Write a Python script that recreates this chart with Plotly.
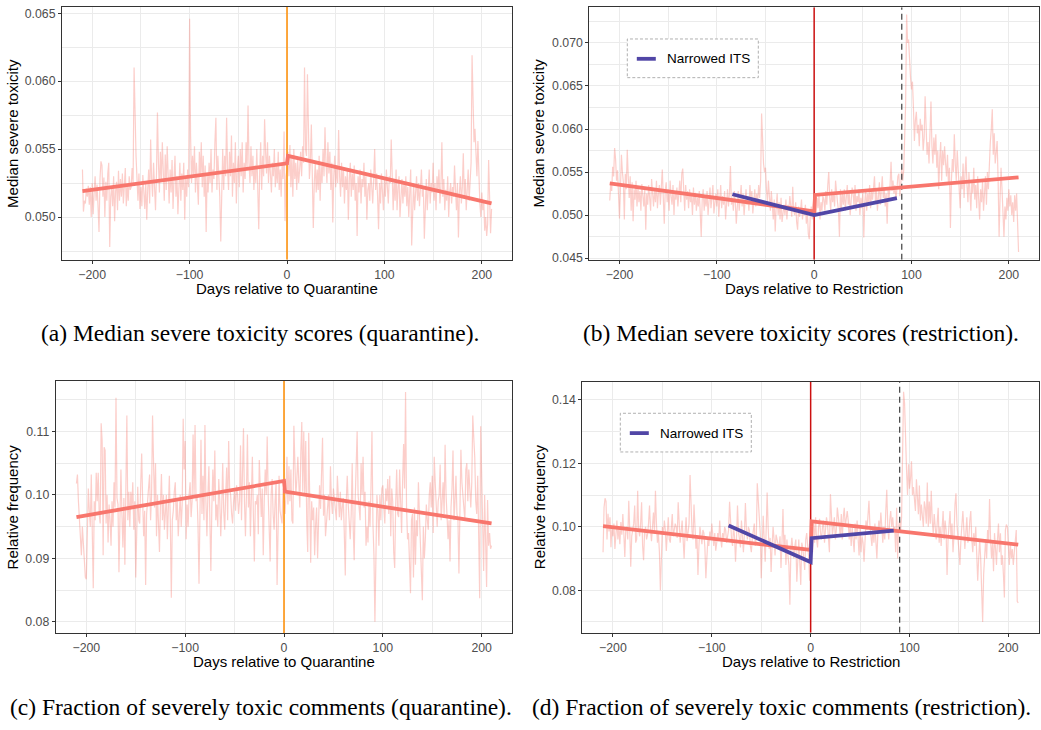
import plotly.graph_objects as go

W, H = 1041, 730

# ---------------- data ----------------
days = list(range(-210, 211))

# (a) median severe toxicity, quarantine (days -210..210)
quar_tox_median = [
    0.0535, 0.0504, 0.0512, 0.0510, 0.0521, 0.0515, 0.0523, 0.0509, 0.0522, 0.0500,
    0.0525, 0.0502, 0.0518, 0.0530, 0.0512, 0.0524, 0.0508, 0.0489, 0.0528, 0.0541,
    0.0538, 0.0515, 0.0529, 0.0500, 0.0526, 0.0512, 0.0532, 0.0540, 0.0478, 0.0515,
    0.0522, 0.0508, 0.0530, 0.0497, 0.0519, 0.0526, 0.0505, 0.0534, 0.0512, 0.0528,
    0.0515, 0.0532, 0.0510, 0.0520, 0.0536, 0.0508, 0.0524, 0.0512, 0.0530, 0.0520,
    0.0522, 0.0536, 0.0525, 0.0610, 0.0560, 0.0545, 0.0528, 0.0512, 0.0532, 0.0506,
    0.0522, 0.0508, 0.0531, 0.0518, 0.0506, 0.0525, 0.0498, 0.0520, 0.0535, 0.0510,
    0.0557, 0.0528, 0.0515, 0.0540, 0.0522, 0.0505, 0.0532, 0.0577, 0.0540, 0.0518,
    0.0548, 0.0526, 0.0555, 0.0530, 0.0512, 0.0546, 0.0520, 0.0552, 0.0528, 0.0510,
    0.0535, 0.0518, 0.0542, 0.0506, 0.0528, 0.0545, 0.0515, 0.0530, 0.0502, 0.0525,
    0.0540, 0.0512, 0.0532, 0.0520, 0.0540, 0.0498, 0.0530, 0.0515, 0.0535, 0.0522,
    0.0646, 0.0560, 0.0525, 0.0545, 0.0530, 0.0552, 0.0518, 0.0540, 0.0528, 0.0509,
    0.0548, 0.0530, 0.0555, 0.0522, 0.0545, 0.0515, 0.0538, 0.0489, 0.0532, 0.0518,
    0.0540, 0.0525, 0.0550, 0.0518, 0.0535, 0.0528, 0.0555, 0.0573, 0.0520, 0.0545,
    0.0530, 0.0515, 0.0482, 0.0525, 0.0550, 0.0520, 0.0545, 0.0530, 0.0573, 0.0535,
    0.0520, 0.0548, 0.0530, 0.0560, 0.0515, 0.0540, 0.0525, 0.0555, 0.0510, 0.0535,
    0.0545, 0.0522, 0.0550, 0.0530, 0.0555, 0.0518, 0.0540, 0.0528, 0.0555, 0.0535,
    0.0582, 0.0540, 0.0525, 0.0552, 0.0530, 0.0545, 0.0520, 0.0538, 0.0525, 0.0550,
    0.0528, 0.0491, 0.0535, 0.0555, 0.0520, 0.0545, 0.0530, 0.0572, 0.0548, 0.0532,
    0.0555, 0.0525, 0.0545, 0.0535, 0.0518, 0.0540, 0.0530, 0.0550, 0.0522, 0.0538,
    0.0525, 0.0548, 0.0520, 0.0535, 0.0515, 0.0540, 0.0528, 0.0563, 0.0497, 0.0530,
    0.0535,
    0.0548, 0.0530, 0.0553, 0.0522, 0.0545, 0.0515, 0.0550, 0.0528, 0.0540, 0.0520,
    0.0542, 0.0525, 0.0535, 0.0548, 0.0530, 0.0552, 0.0540, 0.0610, 0.0550, 0.0545,
    0.0605, 0.0545, 0.0528, 0.0540, 0.0568, 0.0530, 0.0492, 0.0525, 0.0540, 0.0518,
    0.0535, 0.0520, 0.0545, 0.0512, 0.0538, 0.0525, 0.0550, 0.0530, 0.0566, 0.0540,
    0.0525, 0.0555, 0.0532, 0.0548, 0.0520, 0.0540, 0.0496, 0.0530, 0.0545, 0.0522,
    0.0538, 0.0525, 0.0564, 0.0530, 0.0515, 0.0540, 0.0522, 0.0535, 0.0510, 0.0530,
    0.0520, 0.0535, 0.0498, 0.0528, 0.0540, 0.0515, 0.0532, 0.0520, 0.0538, 0.0512,
    0.0525, 0.0486, 0.0530, 0.0518, 0.0535, 0.0510, 0.0528, 0.0522, 0.0540, 0.0515,
    0.0530, 0.0498, 0.0520, 0.0525, 0.0512, 0.0535, 0.0520, 0.0510, 0.0528, 0.0550,
    0.0520, 0.0532, 0.0515, 0.0491, 0.0525, 0.0510, 0.0532, 0.0518, 0.0505, 0.0528,
    0.0515, 0.0535, 0.0520, 0.0510, 0.0530, 0.0525, 0.0557, 0.0518, 0.0505, 0.0528,
    0.0512, 0.0535, 0.0505, 0.0522, 0.0530, 0.0500, 0.0518, 0.0528, 0.0510, 0.0525,
    0.0515, 0.0530, 0.0508, 0.0522, 0.0500, 0.0518, 0.0535, 0.0479, 0.0512, 0.0525,
    0.0505, 0.0520, 0.0530, 0.0512, 0.0525, 0.0508, 0.0520, 0.0535, 0.0515, 0.0522,
    0.0484, 0.0515, 0.0528, 0.0505, 0.0520, 0.0535, 0.0510, 0.0525, 0.0518, 0.0540,
    0.0512, 0.0525, 0.0505, 0.0530, 0.0518, 0.0535, 0.0510, 0.0522, 0.0555, 0.0515,
    0.0528, 0.0505, 0.0520, 0.0512, 0.0530, 0.0500, 0.0518, 0.0525, 0.0510, 0.0522,
    0.0515, 0.0538, 0.0520, 0.0505, 0.0525, 0.0485, 0.0518, 0.0530, 0.0510, 0.0522,
    0.0547, 0.0515, 0.0528, 0.0505, 0.0520, 0.0535, 0.0512, 0.0525, 0.0540, 0.0619,
    0.0580, 0.0555, 0.0565, 0.0540, 0.0530, 0.0556, 0.0520, 0.0510, 0.0500, 0.0518,
    0.0505, 0.0512, 0.0490, 0.0500, 0.0486, 0.0495, 0.0542, 0.0498, 0.0488, 0.0506,
]

# (b) median severe toxicity, restriction
restr_tox_median = [
    0.0517, 0.0537, 0.0528, 0.0556, 0.0545, 0.0578, 0.0565, 0.0540, 0.0552, 0.0525,
    0.0496, 0.0530, 0.0570, 0.0550, 0.0538, 0.0495, 0.0548, 0.0530, 0.0576, 0.0545,
    0.0520, 0.0545, 0.0505, 0.0538, 0.0493, 0.0530, 0.0518, 0.0540, 0.0510, 0.0532,
    0.0515, 0.0528, 0.0505, 0.0536, 0.0520, 0.0510, 0.0530, 0.0483, 0.0525, 0.0512,
    0.0535, 0.0518, 0.0505, 0.0542, 0.0522, 0.0510, 0.0530, 0.0515, 0.0540, 0.0508,
    0.0525, 0.0535, 0.0512, 0.0545, 0.0553, 0.0520, 0.0490, 0.0528, 0.0538, 0.0515,
    0.0530, 0.0505, 0.0540, 0.0522, 0.0512, 0.0535, 0.0500, 0.0528, 0.0518, 0.0532,
    0.0510, 0.0525, 0.0540, 0.0515, 0.0548, 0.0554, 0.0520, 0.0505, 0.0535, 0.0518,
    0.0528, 0.0508, 0.0530, 0.0515, 0.0522, 0.0500, 0.0532, 0.0512, 0.0526, 0.0505,
    0.0520, 0.0510, 0.0528, 0.0495, 0.0475, 0.0518, 0.0530, 0.0505, 0.0522, 0.0510,
    0.0528, 0.0500, 0.0515, 0.0532, 0.0508, 0.0520, 0.0535, 0.0502, 0.0518, 0.0525,
    0.0510, 0.0530, 0.0498, 0.0520, 0.0535, 0.0508, 0.0522, 0.0512, 0.0528, 0.0495,
    0.0518, 0.0530, 0.0510, 0.0525, 0.0557, 0.0512, 0.0520, 0.0505, 0.0528, 0.0515,
    0.0490, 0.0518, 0.0528, 0.0505, 0.0520, 0.0535, 0.0510, 0.0525, 0.0500, 0.0518,
    0.0530, 0.0512, 0.0522, 0.0505, 0.0535, 0.0518, 0.0528, 0.0502, 0.0515, 0.0530,
    0.0510, 0.0525, 0.0515, 0.0535, 0.0520, 0.0540, 0.0618, 0.0585, 0.0560, 0.0550,
    0.0555, 0.0530, 0.0515, 0.0540, 0.0520, 0.0505, 0.0528, 0.0512, 0.0495, 0.0518,
    0.0481, 0.0510, 0.0525, 0.0500, 0.0515, 0.0495, 0.0520, 0.0492, 0.0508, 0.0512,
    0.0500, 0.0518, 0.0495, 0.0512, 0.0505, 0.0522, 0.0510, 0.0498, 0.0533, 0.0505,
    0.0500, 0.0515, 0.0492, 0.0483, 0.0510, 0.0498, 0.0505, 0.0518, 0.0495, 0.0508,
    0.0500, 0.0512, 0.0490, 0.0505, 0.0478, 0.0472, 0.0498, 0.0510, 0.0495, 0.0505,
    0.0500,
    0.0512, 0.0500, 0.0520, 0.0508, 0.0525, 0.0495, 0.0515, 0.0505, 0.0522, 0.0518,
    0.0505, 0.0528, 0.0512, 0.0535, 0.0550, 0.0520, 0.0505, 0.0530, 0.0515, 0.0525,
    0.0510, 0.0540, 0.0522, 0.0515, 0.0505, 0.0475, 0.0530, 0.0508, 0.0525, 0.0512,
    0.0530, 0.0505, 0.0520, 0.0535, 0.0512, 0.0528, 0.0500, 0.0518, 0.0532, 0.0525,
    0.0510, 0.0535, 0.0505, 0.0522, 0.0515, 0.0530, 0.0500, 0.0520, 0.0508, 0.0527,
    0.0474, 0.0515, 0.0530, 0.0505, 0.0525, 0.0512, 0.0535, 0.0508, 0.0528, 0.0518,
    0.0535, 0.0545, 0.0515, 0.0530, 0.0505, 0.0522, 0.0538, 0.0512, 0.0528, 0.0545,
    0.0520, 0.0532, 0.0510, 0.0525, 0.0490, 0.0530, 0.0520, 0.0535, 0.0562, 0.0528,
    0.0540, 0.0525, 0.0535, 0.0518, 0.0530, 0.0545, 0.0548, 0.0522, 0.0535, 0.0555,
    0.0540, 0.0552, 0.0590, 0.0630, 0.0733, 0.0700, 0.0704, 0.0670, 0.0660, 0.0646,
    0.0655, 0.0625, 0.0586, 0.0610, 0.0620, 0.0595, 0.0605, 0.0580, 0.0612, 0.0598,
    0.0605, 0.0575, 0.0590, 0.0638, 0.0600, 0.0570, 0.0585, 0.0560, 0.0595, 0.0632,
    0.0580, 0.0560, 0.0590, 0.0570, 0.0594, 0.0555, 0.0575, 0.0530, 0.0565, 0.0585,
    0.0540, 0.0575, 0.0558, 0.0580, 0.0560, 0.0545, 0.0570, 0.0535, 0.0555, 0.0485,
    0.0540, 0.0565, 0.0550, 0.0594, 0.0560, 0.0540, 0.0575, 0.0552, 0.0530, 0.0508,
    0.0545, 0.0530, 0.0560, 0.0520, 0.0548, 0.0568, 0.0535, 0.0515, 0.0550, 0.0530,
    0.0505, 0.0540, 0.0525, 0.0555, 0.0518, 0.0535, 0.0508, 0.0545, 0.0520, 0.0495,
    0.0530, 0.0515, 0.0540, 0.0505, 0.0525, 0.0545, 0.0512, 0.0550, 0.0530, 0.0565,
    0.0585, 0.0600, 0.0623, 0.0570, 0.0595, 0.0560, 0.0575, 0.0586, 0.0540, 0.0475,
    0.0520, 0.0555, 0.0530, 0.0500, 0.0475, 0.0510, 0.0495, 0.0520, 0.0505, 0.0530,
    0.0510, 0.0523, 0.0500, 0.0515, 0.0492, 0.0523, 0.0505, 0.0525, 0.0480, 0.0457,
]

# (c) fraction of severely toxic comments, quarantine
quar_frac = [
    0.1018, 0.1032, 0.0990, 0.0955, 0.0945, 0.0905, 0.0950, 0.0920, 0.0880, 0.0870,
    0.0867, 0.0955, 0.1010, 0.0975, 0.0950, 0.1032, 0.0935, 0.0853, 0.0990, 0.0960,
    0.1035, 0.0990, 0.1035, 0.0970, 0.0955, 0.1113, 0.1085, 0.0905, 0.1075, 0.1070,
    0.0955, 0.1000, 0.0925, 0.0985, 0.0960, 0.0920, 0.0990, 0.0950, 0.1020, 0.0980,
    0.1153, 0.0995, 0.0985, 0.0878, 0.0960, 0.1040, 0.0970, 0.0917, 0.0995, 0.0890,
    0.1010, 0.1125, 0.0960, 0.1005, 0.0950, 0.1005, 0.0980, 0.1020, 0.0945, 0.0990,
    0.0870, 0.0985, 0.1013, 0.0960, 0.0955, 0.1015, 0.1065, 0.0990, 0.0935, 0.0975,
    0.0858, 0.0970, 0.0990, 0.1010, 0.1032, 0.0960, 0.1000, 0.1125, 0.1050, 0.0980,
    0.1050, 0.0935, 0.1000, 0.0965, 0.0910, 0.0985, 0.1033, 0.0960, 0.1000, 0.0945,
    0.0975, 0.1000, 0.0930, 0.0990, 0.1030, 0.0955, 0.0838, 0.0960, 0.0975, 0.1005,
    0.1020, 0.0960, 0.0990, 0.0935, 0.0970, 0.1000, 0.0950, 0.0985, 0.1120, 0.1040,
    0.1085, 0.0930, 0.0985, 0.0950, 0.1000, 0.1020, 0.0965, 0.0990, 0.1095, 0.1000,
    0.1110, 0.0990, 0.1000, 0.0950, 0.0860, 0.0985, 0.1087, 0.0970, 0.1030, 0.0960,
    0.1110, 0.0990, 0.0935, 0.1000, 0.1045, 0.0960, 0.0880, 0.0980, 0.1040, 0.0990,
    0.1070, 0.0960, 0.0985, 0.0950, 0.1025, 0.0990, 0.0935, 0.0980, 0.1050, 0.0975,
    0.0945, 0.1000, 0.1043, 0.0960, 0.1085, 0.1010, 0.1000, 0.0970, 0.0955, 0.0990,
    0.1010, 0.0975, 0.1015, 0.1000, 0.0970, 0.0990, 0.1078, 0.0960, 0.1040, 0.1105,
    0.0990, 0.0935, 0.1000, 0.1095, 0.0980, 0.1020, 0.0935, 0.0995, 0.1060, 0.0970,
    0.0895, 0.0990, 0.0985, 0.1000, 0.0938, 0.1055, 0.0990, 0.0965, 0.1010, 0.0905,
    0.0990, 0.1040, 0.1000, 0.1092, 0.1000, 0.0960, 0.0895, 0.1000, 0.1025, 0.0970,
    0.0945, 0.0990, 0.1020, 0.0858, 0.0990, 0.1030, 0.0975, 0.0960, 0.0955, 0.1010,
    0.1000,
    0.0970, 0.1000, 0.1060, 0.0985, 0.1045, 0.0990, 0.1040, 0.0960, 0.0955, 0.1109,
    0.1050, 0.1000, 0.1025, 0.1060, 0.1020, 0.0980, 0.1065, 0.1115, 0.1005, 0.1100,
    0.1000, 0.1085, 0.0960, 0.0910, 0.1098, 0.0975, 0.0893, 0.0990, 0.0960, 0.0980,
    0.0905, 0.0953, 0.0980, 0.0900, 0.0950, 0.1015, 0.0978, 0.1050, 0.1090, 0.0967,
    0.1000, 0.0935, 0.0960, 0.0985, 0.1000, 0.0960, 0.1045, 0.0990, 0.0970, 0.1010,
    0.0995, 0.0975, 0.0960, 0.1030, 0.0990, 0.0965, 0.1005, 0.0960, 0.0980, 0.0995,
    0.0940, 0.0873, 0.0990, 0.1030, 0.0985, 0.0955, 0.0930, 0.0970, 0.1050, 0.0950,
    0.0897, 0.0990, 0.1035, 0.1100, 0.1000, 0.0970, 0.0960, 0.1050, 0.1000, 0.1060,
    0.0980, 0.1005, 0.0920, 0.0950, 0.0925, 0.0990, 0.0950, 0.1010, 0.1100, 0.0955,
    0.0905, 0.0800, 0.0920, 0.1000, 0.0975, 0.0920, 0.1000, 0.0960, 0.1010, 0.1015,
    0.0980, 0.0955, 0.1010, 0.0990, 0.1025, 0.0970, 0.1030, 0.0935, 0.1010, 0.0990,
    0.0910, 0.0885, 0.0985, 0.1040, 0.0970, 0.0965, 0.1040, 0.0990, 0.0940, 0.1020,
    0.1080, 0.1010, 0.1162, 0.0980, 0.0930, 0.0940, 0.0880, 0.0845, 0.0960, 0.0970,
    0.0870, 0.0980, 0.0890, 0.0960, 0.0935, 0.1020, 0.0970, 0.0910, 0.0880, 0.0834,
    0.0950, 0.0900, 0.0930, 0.0985, 0.0960, 0.0945, 0.1000, 0.1020, 0.0980, 0.1030,
    0.0940, 0.1060, 0.1020, 0.0980, 0.0950, 0.0990, 0.1000, 0.1048, 0.0960, 0.0990,
    0.1020, 0.0970, 0.1079, 0.1000, 0.0950, 0.0930, 0.0960, 0.0895, 0.0980, 0.1010,
    0.1070, 0.0960, 0.0990, 0.1030, 0.0970, 0.0960, 0.0876, 0.0990, 0.1071, 0.1020,
    0.1000, 0.0970, 0.0960, 0.1040, 0.1050, 0.0990, 0.1040, 0.1010, 0.0980, 0.1020,
    0.1125, 0.1090, 0.1060, 0.0990, 0.0970, 0.1030, 0.0910, 0.0837, 0.1108, 0.1040,
    0.0950, 0.0880, 0.1000, 0.0890, 0.0855, 0.0992, 0.0920, 0.0940, 0.0915, 0.0920,
]

# (d) fraction of severely toxic comments, restriction
restr_frac = [
    0.0920, 0.1061, 0.1090, 0.1080, 0.0960, 0.1041, 0.0985, 0.1030, 0.0936, 0.1000,
    0.0970, 0.1010, 0.0930, 0.0985, 0.1020, 0.0960, 0.1000, 0.0945, 0.1015, 0.0975,
    0.1040, 0.0980, 0.0905, 0.0995, 0.1000, 0.0960, 0.1082, 0.0990, 0.0874, 0.0970,
    0.0985, 0.1010, 0.1067, 0.0950, 0.0960, 0.1114, 0.0990, 0.0970, 0.1010, 0.1077,
    0.0940, 0.0895, 0.0985, 0.1000, 0.0960, 0.0975, 0.1010, 0.1067, 0.0990, 0.0955,
    0.1000, 0.1045, 0.0980, 0.1114, 0.1010, 0.0950, 0.0980, 0.0920, 0.0800, 0.0960,
    0.1000, 0.0975, 0.1020, 0.0990, 0.0924, 0.0980, 0.1030, 0.0960, 0.0950, 0.0995,
    0.1040, 0.0970, 0.0985, 0.1010, 0.1000, 0.0965, 0.1077, 0.1000, 0.0950, 0.0985,
    0.1020, 0.0960, 0.0900, 0.0980, 0.1030, 0.0955, 0.0985, 0.1010, 0.1163, 0.1040,
    0.0985, 0.0960, 0.1070, 0.1000, 0.0931, 0.0970, 0.0848, 0.0940, 0.1000, 0.0975,
    0.0945, 0.0990, 0.0980, 0.0935, 0.0838, 0.0900, 0.0960, 0.0940, 0.0985, 0.0960,
    0.1010, 0.0975, 0.0940, 0.0980, 0.0925, 0.0950, 0.0980, 0.0955, 0.1020, 0.0965,
    0.0935, 0.0980, 0.0960, 0.1000, 0.0990, 0.0950, 0.0970, 0.0990, 0.1079, 0.1010,
    0.0960, 0.0940, 0.1000, 0.0970, 0.0890, 0.0960, 0.1067, 0.0985, 0.0960, 0.0935,
    0.1020, 0.0965, 0.0920, 0.0980, 0.1075, 0.0990, 0.0960, 0.1000, 0.0990, 0.0940,
    0.0920, 0.0965, 0.0985, 0.1010, 0.0940, 0.0960, 0.1137, 0.1080, 0.1065, 0.0980,
    0.0838, 0.0950, 0.1035, 0.0960, 0.0890, 0.0990, 0.1108, 0.1000, 0.0930, 0.0965,
    0.0858, 0.0940, 0.1000, 0.0960, 0.0910, 0.0975, 0.0960, 0.0940, 0.0930, 0.0970,
    0.0870, 0.0950, 0.1056, 0.0930, 0.0975, 0.0880, 0.0960, 0.0910, 0.0880, 0.0754,
    0.0930, 0.0965, 0.0920, 0.0900, 0.0940, 0.0960, 0.0827, 0.0920, 0.0960, 0.0890,
    0.0817, 0.0950, 0.0935, 0.0900, 0.0864, 0.0960, 0.0980, 0.0940, 0.0905, 0.0830,
    0.0960,
    0.1000, 0.0920, 0.1010, 0.0950, 0.1030, 0.0960, 0.0935, 0.1000, 0.1025, 0.0980,
    0.0960, 0.1000, 0.1020, 0.0950, 0.0985, 0.1030, 0.1010, 0.0975, 0.0920, 0.1103,
    0.1000, 0.0975, 0.1000, 0.1030, 0.0960, 0.0990, 0.1061, 0.1030, 0.1000, 0.0970,
    0.1040, 0.0960, 0.1030, 0.1060, 0.1000, 0.1040, 0.1050, 0.1020, 0.0960, 0.1000,
    0.0940, 0.1000, 0.0955, 0.0920, 0.1010, 0.0960, 0.1020, 0.0980, 0.0910, 0.1000,
    0.0920, 0.0970, 0.0950, 0.0890, 0.0950, 0.1020, 0.0990, 0.1030, 0.1082, 0.1000,
    0.0960, 0.0940, 0.1000, 0.0950, 0.1010, 0.0970, 0.0900, 0.0980, 0.1020, 0.0985,
    0.1045, 0.1000, 0.0950, 0.1000, 0.0960, 0.1050, 0.1117, 0.1000, 0.0960, 0.1020,
    0.1050, 0.1000, 0.1030, 0.0990, 0.1000, 0.0920, 0.1060, 0.0900, 0.1000, 0.1020,
    0.0990, 0.1030, 0.1200, 0.1426, 0.1390, 0.1250, 0.1181, 0.1100, 0.1197, 0.1120,
    0.1150, 0.1207, 0.1100, 0.1125, 0.1080, 0.1050, 0.1150, 0.1100, 0.1040, 0.1130,
    0.1020, 0.1070, 0.1020, 0.1000, 0.1080, 0.1060, 0.1010, 0.1140, 0.1000, 0.1080,
    0.1010, 0.1114, 0.1020, 0.0980, 0.1040, 0.1000, 0.0960, 0.1010, 0.1060, 0.0950,
    0.1000, 0.0940, 0.0980, 0.1050, 0.0960, 0.1020, 0.0990, 0.0848, 0.0960, 0.1000,
    0.1050, 0.0960, 0.1010, 0.0920, 0.0970, 0.1070, 0.1106, 0.1010, 0.0960, 0.0900,
    0.0880, 0.0960, 0.1020, 0.1050, 0.0990, 0.0930, 0.0980, 0.1030, 0.0950, 0.0960,
    0.1020, 0.1050, 0.0960, 0.0920, 0.0980, 0.0940, 0.1000, 0.0870, 0.0830, 0.0900,
    0.0960, 0.0900, 0.0800, 0.0700, 0.0850, 0.0920, 0.0960, 0.0900, 0.0990, 0.0950,
    0.1088, 0.0960, 0.0900, 0.0950, 0.0860, 0.0980, 0.0940, 0.0880, 0.0960, 0.1010,
    0.0920, 0.0980, 0.0880, 0.0910, 0.0850, 0.0777, 0.0990, 0.1007, 0.1000, 0.0920,
    0.0880, 0.0950, 0.0900, 0.0930, 0.0880, 0.0920, 0.0960, 0.0990, 0.0765, 0.0760,
]

for s in (quar_tox_median, restr_tox_median, quar_frac, restr_frac):
    assert len(s) == len(days), len(s)

# fitted ITS lines (segment end points)
fit_days = [-210, 0, 1, 210]
quar_tox_fit = [0.0519, 0.05395, 0.0545, 0.0510]
restr_tox_fit = [0.05369, 0.05043, 0.05234, 0.05438]
quar_frac_fit = [0.0965, 0.1022, 0.1005, 0.0955]
restr_frac_fit = [0.1002, 0.0927, 0.1017, 0.0944]

restr_tox_narrow_days = [-84, 0, 85]
restr_tox_narrow = [0.05242, 0.0500, 0.05196]
restr_frac_narrow_days = [-83, 0, 1, 84]
restr_frac_narrow = [0.1004, 0.0889, 0.0964, 0.0988]

event_day = 0
restriction_end_day = 90

x_ticks = [-200, -100, 0, 100, 200]
x_minor = [-150, -50, 50, 150]

captions = [
    "(a) Median severe toxicity scores (quarantine).",
    "(b) Median severe toxicity scores (restriction).",
    "(c) Fraction of severely toxic comments (quarantine).",
    "(d) Fraction of severely toxic comments (restriction).",
]

# ---------------- styling ----------------
NOISE = "rgba(248,118,109,0.36)"
FIT = "#F8766D"
BLUE = "#5146A6"
ORANGE = "#FF8C00"
RED = "#CC1010"
GRID = "#EBEBEB"
FRAME = "#333333"
SANS = "Liberation Sans, Arial, sans-serif"
SERIF = "Liberation Serif, Times New Roman, serif"


def fx(p):
    return p / W


def fy(p):
    return 1 - p / H


panels = [
    dict(box=(62, 512, 7, 262), yr=[0.04685, 0.06546],
         yt=[0.050, 0.055, 0.060, 0.065], ym=[0.0475, 0.0525, 0.0575, 0.0625],
         fmt=".3f", y=quar_tox_median, fit=quar_tox_fit, vcol=ORANGE,
         ytitle="Median severe toxicity", xtitle="Days relative to Quarantine"),
    dict(box=(589.3, 1039, 7.3, 262), yr=[0.0448, 0.07415],
         yt=[0.045, 0.050, 0.055, 0.060, 0.065, 0.070],
         ym=[0.0475, 0.0525, 0.0575, 0.0625, 0.0675, 0.0725],
         fmt=".3f", y=restr_tox_median, fit=restr_tox_fit, vcol=RED,
         nx=restr_tox_narrow_days, ny=restr_tox_narrow,
         ytitle="Median severe toxicity", xtitle="Days relative to Restriction"),
    dict(box=(55.7, 512.3, 384, 638.3), yr=[0.07823, 0.11797],
         yt=[0.08, 0.09, 0.10, 0.11], ym=[0.085, 0.095, 0.105, 0.115],
         fmt=".2f", y=quar_frac, fit=quar_frac_fit, vcol=ORANGE,
         ytitle="Relative frequency", xtitle="Days relative to Quarantine"),
    dict(box=(582.3, 1039, 384.7, 638), yr=[0.0666, 0.1458],
         yt=[0.08, 0.10, 0.12, 0.14], ym=[0.07, 0.09, 0.11, 0.13],
         fmt=".2f", y=restr_frac, fit=restr_frac_fit, vcol=RED,
         nx=restr_frac_narrow_days, ny=restr_frac_narrow,
         ytitle="Relative frequency", xtitle="Days relative to Restriction"),
]

fig = go.Figure()
layout = dict(width=W, height=H, margin=dict(l=0, r=0, t=0, b=0, pad=0),
              paper_bgcolor="white", plot_bgcolor="white", showlegend=False)
shapes, annotations = [], []

for i, p in enumerate(panels, start=1):
    sfx = "" if i == 1 else str(i)
    xa, ya = "x" + sfx, "y" + sfx
    l, r, t, b = p["box"]
    layout["xaxis" + sfx] = dict(
        domain=[fx(l), fx(r)], anchor=ya, range=[-231, 231],
        tickvals=x_ticks, ticks="outside", ticklen=3, tickwidth=1, tickcolor=FRAME,
        showline=True, mirror=True, linecolor=FRAME, linewidth=1,
        showgrid=True, gridcolor=GRID, gridwidth=1.1, zeroline=False,
        minor=dict(tickvals=x_minor, showgrid=True, gridcolor=GRID, gridwidth=0.6, ticks=""),
        tickfont=dict(family=SANS, size=12.3, color="#4D4D4D"))
    layout["yaxis" + sfx] = dict(
        domain=[fy(b), fy(t)], anchor=xa, range=p["yr"],
        tickvals=p["yt"], tickformat=p["fmt"], ticks="outside", ticklen=3,
        tickwidth=1, tickcolor=FRAME,
        showline=True, mirror=True, linecolor=FRAME, linewidth=1,
        showgrid=True, gridcolor=GRID, gridwidth=1.1, zeroline=False,
        minor=dict(tickvals=p["ym"], showgrid=True, gridcolor=GRID, gridwidth=0.6, ticks=""),
        tickfont=dict(family=SANS, size=12.3, color="#4D4D4D"))

    y_lo, y_hi = p["yr"]
    # raw daily series
    fig.add_trace(go.Scatter(x=days, y=p["y"], mode="lines", xaxis=xa, yaxis=ya,
                             line=dict(color=NOISE, width=1.2), hoverinfo="skip"))
    # intervention day marker
    fig.add_trace(go.Scatter(x=[event_day, event_day], y=[y_lo, y_hi], mode="lines",
                             xaxis=xa, yaxis=ya, line=dict(color=p["vcol"], width=1.5),
                             hoverinfo="skip"))
    if "nx" in p:
        fig.add_trace(go.Scatter(x=[restriction_end_day, restriction_end_day], y=[y_lo, y_hi],
                                 mode="lines", xaxis=xa, yaxis=ya,
                                 line=dict(color="#4D4D4D", width=1.3, dash="6px,4px"),
                                 hoverinfo="skip"))
    fig.add_trace(go.Scatter(x=fit_days, y=p["fit"], mode="lines", xaxis=xa, yaxis=ya,
                             line=dict(color=FIT, width=3.8)))
    if "nx" in p:
        fig.add_trace(go.Scatter(x=p["nx"], y=p["ny"], mode="lines", xaxis=xa, yaxis=ya,
                                 line=dict(color=BLUE, width=3.8)))
        # legend box
        bx0, by0 = l + 38, t + 32
        shapes.append(dict(type="rect", xref="paper", yref="paper",
                           x0=fx(bx0), x1=fx(bx0 + 131), y0=fy(by0 + 39), y1=fy(by0),
                           fillcolor="white", line=dict(color="#B0B0B0", width=1, dash="3px,2px"),
                           layer="above"))
        shapes.append(dict(type="line", xref="paper", yref="paper",
                           x0=fx(bx0 + 9.5), x1=fx(bx0 + 28.5), y0=fy(by0 + 20), y1=fy(by0 + 20),
                           line=dict(color=BLUE, width=3.8), layer="above"))
        annotations.append(dict(xref="paper", yref="paper", x=fx(bx0 + 38), y=fy(by0 + 20),
                                text="Narrowed ITS", showarrow=False, xanchor="left",
                                yanchor="middle", font=dict(family=SANS, size=13.5, color="black")))

    annotations.append(dict(xref="paper", yref="paper", x=fx((l + r) / 2), y=fy(b + 29),
                            text=p["xtitle"], showarrow=False, xanchor="center",
                            yanchor="middle", font=dict(family=SANS, size=15, color="black")))
    ytx = 12.5 if l < 300 else 539
    annotations.append(dict(xref="paper", yref="paper", x=fx(ytx), y=fy((t + b) / 2),
                            text=p["ytitle"], showarrow=False, textangle=-90,
                            xanchor="center", yanchor="middle",
                            font=dict(family=SANS, size=15, color="black")))

cap_pos = [(260, 336), (801, 336), (261, 713), (781, 713)]
for txt, (cx, cy) in zip(captions, cap_pos):
    annotations.append(dict(xref="paper", yref="paper", x=fx(cx), y=fy(cy), text=txt,
                            showarrow=False, xanchor="center", yanchor="middle",
                            font=dict(family=SERIF, size=23.5, color="black")))

layout["shapes"] = shapes
layout["annotations"] = annotations
fig.update_layout(**layout)
fig.write_html("out.html", config={"displayModeBar": False},
               post_script="document.body.style.margin='0px';document.body.style.padding='0px';")
